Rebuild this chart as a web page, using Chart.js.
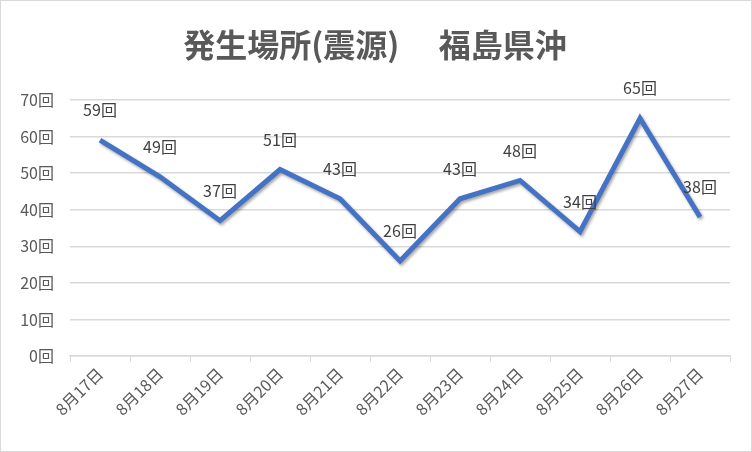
<!DOCTYPE html>
<html lang="ja">
<head>
    <meta charset="UTF-8">
    <title>発生場所(震源) 福島県沖</title>
    <style>
        html, body { margin: 0; padding: 0; background: #fff; }
        #wrap { width: 752px; height: 452px; position: relative; }
    </style>
</head>
<body>
    <div id="wrap"><canvas id="quakeChart"></canvas></div>

    <script src="https://cdn.jsdelivr.net/npm/chart.js"></script>
    <script>
        const days = ['8月17日', '8月18日', '8月19日', '8月20日', '8月21日', '8月22日',
                      '8月23日', '8月24日', '8月25日', '8月26日', '8月27日'];
        const counts = [59, 49, 37, 51, 43, 26, 43, 48, 34, 65, 38];
        const chartTitle = '発生場所(震源)　 福島県沖';
        const unit = '回';

        const FONT = '"Noto Sans CJK JP", "Noto Sans", sans-serif';
        const GRAY = '#595959';

        // title, outer frame and value labels drawn by hand
        const decorations = {
            id: 'decorations',
            beforeDraw(chart) {
                const ctx = chart.ctx;
                ctx.save();
                ctx.fillStyle = '#fff';
                ctx.fillRect(0, 0, chart.width, chart.height);
                ctx.strokeStyle = '#d9d9d9';
                ctx.lineWidth = 1;
                ctx.strokeRect(0.5, 0.5, chart.width - 1, chart.height - 1);
                ctx.fillStyle = GRAY;
                ctx.font = 'bold 32px ' + FONT;
                ctx.textAlign = 'center';
                ctx.textBaseline = 'middle';
                ctx.fillText(chartTitle, chart.width / 2 - 1, 45);
                ctx.restore();
            },
            beforeDatasetsDraw(chart) {
                const ctx = chart.ctx;
                ctx.save();
                ctx.shadowColor = 'rgba(0,0,0,0.35)';
                ctx.shadowBlur = 3;
                ctx.shadowOffsetX = 1.5;
                ctx.shadowOffsetY = 2;
            },
            afterDatasetsDraw(chart) {
                const ctx = chart.ctx;
                ctx.restore();
                ctx.save();
                ctx.fillStyle = '#404040';
                ctx.font = '16px ' + FONT;
                ctx.textAlign = 'center';
                ctx.textBaseline = 'middle';
                chart.getDatasetMeta(0).data.forEach((pt, i) => {
                    ctx.fillText(counts[i] + unit, pt.x, pt.y - 30);
                });
                ctx.restore();
            }
        };

        new Chart(document.getElementById('quakeChart'), {
            type: 'line',
            data: {
                labels: days,
                datasets: [{
                    data: counts,
                    borderColor: '#4472c4',
                    borderWidth: 5,
                    pointRadius: 0,
                    tension: 0,
                    fill: false
                }]
            },
            options: {
                responsive: true,
                maintainAspectRatio: false,
                animation: false,
                layout: { padding: { top: 100, right: 22, bottom: 6, left: 0 } },
                plugins: {
                    legend: { display: false },
                    title: { display: false },
                    tooltip: { enabled: false }
                },
                scales: {
                    x: {
                        offset: true,
                        afterFit: s => { s.height = 90; },
                        grid: {
                            offset: true,
                            drawOnChartArea: false,
                            drawTicks: true,
                            tickLength: 6,
                            color: '#d9d9d9'
                        },
                        border: { color: '#d9d9d9', width: 1.5 },
                        ticks: {
                            color: GRAY,
                            font: { family: FONT, size: 16 },
                            maxRotation: 45,
                            minRotation: 45,
                            padding: 2,
                            autoSkip: false
                        }
                    },
                    y: {
                        min: 0,
                        max: 70,
                        afterFit: s => { s.width = 70; },
                        grid: { color: '#d9d9d9', drawTicks: false, lineWidth: 1.5 },
                        border: { display: false },
                        ticks: {
                            stepSize: 10,
                            color: GRAY,
                            padding: 16,
                            font: { family: FONT, size: 16 },
                            callback: v => v + unit
                        }
                    }
                }
            },
            plugins: [decorations]
        });
    </script>
</body>
</html>
